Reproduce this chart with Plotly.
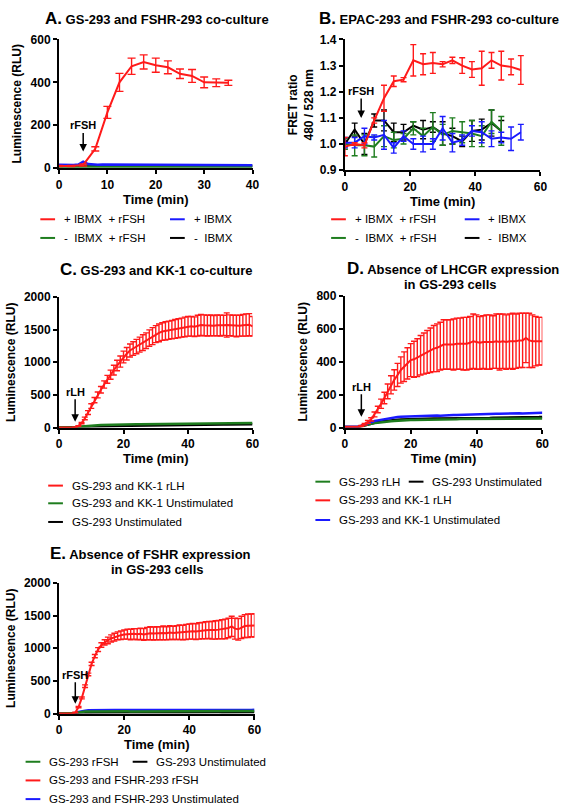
import plotly.graph_objects as go

W, H = 569, 812
FONT = "Liberation Sans, Arial, sans-serif"

RED = "#ff1a1a"
BLUE = "#1a1aff"
GREEN = "#1e7d1e"
BLACK = "#000000"

# ---------- A. GS-293 and FSHR-293 co-culture ----------
a_red_t = [0, 2.5, 5, 7.5, 10, 12.5, 15, 17.5, 20, 22.5, 25, 27.5, 30, 32.5, 35]
a_red = [10, 10, 15, 90, 260, 400, 475, 495, 480, 470, 440, 430, 400, 398, 398]
a_red_err = [3, 3, 5, 10, 28, 42, 38, 33, 33, 30, 22, 30, 25, 18, 12]

a_base_t = list(range(41))
a_blue = [16, 15, 16, 15, 17, 30, 19, 17, 16, 17,
          17, 16, 15, 16, 15, 16, 17, 16, 15, 16,
          17, 16, 16, 15, 16, 15, 16, 17, 16, 15,
          15, 16, 15, 16, 15, 15, 14, 15, 15, 14,
          14]
a_green = [8, 8, 7, 8, 8, 10, 9, 8, 8, 8,
           8, 8, 7, 8, 8, 7, 8, 8, 7, 8,
           8, 7, 8, 8, 7, 8, 8, 7, 8, 8,
           7, 8, 8, 7, 8, 7, 8, 8, 7, 8,
           8]
a_black = [11, 11, 10, 11, 11, 13, 11, 11, 10, 11,
           11, 11, 10, 11, 11, 10, 11, 11, 10, 11,
           11, 10, 11, 11, 10, 11, 11, 10, 11, 11,
           10, 11, 11, 10, 11, 10, 11, 11, 10, 11,
           11]

# ---------- B. EPAC-293 and FSHR-293 co-culture ----------
b_t = [0, 3, 6, 9, 12, 15, 18, 21, 24, 27, 30, 33, 36, 39, 42, 45, 48, 51, 54]
b_red = [0.99, 1.0, 0.995, 1.09, 1.175, 1.24, 1.246, 1.32, 1.305, 1.31,
         1.305, 1.32, 1.30, 1.285, 1.29, 1.32, 1.30, 1.295, 1.283]
b_red_err = [0.035, 0.005, 0.01, 0.01, 0.05, 0.02, 0.008, 0.06, 0.04, 0.04,
             0.01, 0.012, 0.03, 0.03, 0.065, 0.03, 0.055, 0.03, 0.055]
b_blue = [1.005, 1.005, 1.03, 1.025, 1.035, 0.985, 1.03, 1.0, 1.0, 1.0,
          1.06, 1.005, 1.015, 1.05, 1.045, 1.02, 1.025, 1.02, 1.045]
b_blue_err = [0.02, 0.02, 0.03, 0.01, 0.055, 0.02, 0.02, 0.02, 0.03, 0.02,
              0.045, 0.035, 0.02, 0.02, 0.04, 0.03, 0.02, 0.045, 0.03]
b_short_t = b_t[:17]
b_green = [1.0, 0.995, 0.995, 0.99, 1.03, 1.015, 1.02, 1.06, 1.03, 1.065,
           1.035, 1.05, 1.045, 1.04, 1.03, 1.085, 1.05]
b_green_err = [0.02, 0.04, 0.04, 0.04, 0.04, 0.03, 0.02, 0.025, 0.03, 0.055,
               0.04, 0.05, 0.04, 0.05, 0.04, 0.045, 0.055]
b_black = [1.0, 1.055, 1.0, 1.09, 1.09, 1.045, 1.045, 1.07, 1.055, 1.065,
           1.04, 1.03, 1.01, 1.05, 1.055, 1.08, 1.05]
b_black_err = [0.01, 0.025, 0.04, 0.025, 0.04, 0.035, 0.03, 0.015, 0.035, 0.02,
               0.045, 0.03, 0.02, 0.04, 0.04, 0.05, 0.04]

# ---------- C. GS-293 and KK-1 co-culture ----------
t60 = list(range(61))
c_red = [0, 0, 0, 0, 0, 5, 25, 70, 140, 230,
         330, 420, 500, 580, 660, 740, 810, 880, 950, 1010,
         1080, 1130, 1180, 1210, 1240, 1270, 1300, 1330, 1370, 1400,
         1430, 1450, 1470, 1480, 1490, 1500, 1510, 1520, 1530, 1540,
         1550, 1550, 1545, 1560, 1570, 1565, 1560, 1565, 1560, 1565,
         1560, 1565, 1570, 1565, 1560, 1555, 1560, 1565, 1570, 1575,
         1550]
c_red_err = [0, 0, 0, 0, 0, 2, 5, 10, 20, 30,
             35, 40, 45, 50, 55, 60, 70, 75, 80, 85,
             90, 95, 100, 105, 110, 115, 120, 120, 125, 130,
             130, 135, 135, 140, 140, 140, 145, 145, 145, 150,
             150, 150, 150, 160, 160, 160, 160, 160, 155, 160,
             160, 155, 185, 160, 160, 165, 160, 165, 170, 170,
             150]
c_green = [0, 0, 0, 0, 2, 5, 12, 18, 24, 28,
           32, 35, 37, 39, 41, 42, 43, 44, 45, 46,
           47, 48, 49, 50, 50, 51, 52, 52, 53, 54,
           55, 55, 56, 57, 57, 58, 59, 59, 60, 61,
           61, 62, 62, 63, 64, 64, 65, 65, 66, 67,
           67, 68, 68, 69, 69, 70, 70, 71, 71, 72,
           72]
c_black = [0, 0, 0, 0, 1, 3, 6, 9, 12, 14,
           16, 18, 19, 20, 21, 22, 23, 24, 25, 26,
           27, 28, 28, 29, 30, 31, 32, 32, 33, 34,
           35, 35, 36, 37, 37, 38, 39, 39, 40, 41,
           41, 42, 42, 43, 44, 44, 45, 45, 46, 47,
           47, 48, 48, 49, 49, 50, 50, 51, 51, 52,
           52]

# ---------- D. Absence of LHCGR expression ----------
d_red = [5, 5, 5, 5, 5, 10, 20, 35, 50, 80,
         110, 145, 180, 220, 260, 290, 320, 350, 370, 390,
         410, 415, 425, 440, 450, 460, 470, 480, 485, 495,
         505, 505, 505, 505, 510, 510, 510, 510, 515, 525,
         520, 515, 520, 520, 520, 520, 525, 520, 525, 520,
         525, 525, 525, 530, 530, 545, 530, 525, 525, 525,
         525]
d_red_err = [0, 0, 0, 0, 0, 3, 5, 8, 10, 15,
             20, 28, 35, 45, 55, 62, 70, 80, 90, 95,
             100, 110, 115, 120, 125, 130, 135, 140, 145, 145,
             150, 150, 150, 155, 155, 155, 160, 160, 160, 165,
             165, 160, 160, 165, 165, 160, 165, 170, 165, 165,
             165, 170, 165, 165, 165, 150, 165, 160, 150, 145,
             145]
d_blue = [5, 5, 5, 5, 6, 12, 20, 28, 35, 40,
          44, 48, 52, 56, 60, 63, 65, 66, 67, 68,
          68, 69, 70, 70, 71, 70, 72, 72, 73, 72,
          74, 75, 75, 76, 77, 78, 78, 79, 80, 80,
          81, 81, 82, 83, 84, 84, 85, 85, 86, 86,
          86, 86, 87, 87, 86, 86, 87, 88, 88, 89,
          90]
d_green = [4, 4, 4, 4, 5, 10, 15, 20, 25, 28,
           30, 33, 35, 37, 39, 40, 42, 44, 45, 46,
           46, 47, 47, 48, 48, 49, 49, 50, 50, 50,
           50, 51, 51, 51, 51, 52, 52, 52, 52, 52,
           52, 52, 53, 53, 53, 53, 54, 54, 54, 54,
           54, 55, 55, 55, 55, 55, 56, 56, 56, 56,
           56]
d_black = [3, 3, 3, 3, 4, 8, 14, 20, 26, 30,
           34, 37, 40, 42, 44, 46, 48, 49, 50, 51,
           52, 52, 53, 53, 54, 54, 54, 55, 55, 55,
           55, 56, 56, 56, 57, 57, 57, 57, 58, 58,
           58, 58, 59, 59, 59, 60, 60, 60, 61, 61,
           61, 62, 62, 62, 63, 63, 63, 64, 64, 64,
           65]

# ---------- E. Absence of FSHR expression ----------
e_red = [0, 0, 0, 0, 0, 15, 100, 240, 420, 600,
         760, 880, 980, 1050, 1090, 1120, 1150, 1170, 1190, 1200,
         1210, 1215, 1210, 1220, 1215, 1220, 1210, 1225, 1230, 1225,
         1230, 1230, 1235, 1230, 1240, 1235, 1240, 1245, 1240, 1250,
         1255, 1260, 1255, 1265, 1270, 1275, 1280, 1275, 1280, 1285,
         1290, 1295, 1310, 1335, 1300, 1290, 1320, 1340, 1345, 1350,
         1350]
e_red_err = [0, 0, 0, 0, 0, 5, 10, 15, 20, 20,
             25, 25, 30, 35, 40, 50, 55, 60, 60, 65,
             70, 75, 80, 80, 85, 85, 90, 95, 100, 100,
             100, 100, 105, 100, 105, 100, 105, 110, 110, 115,
             115, 120, 120, 125, 125, 130, 130, 135, 140, 140,
             145, 150, 150, 155, 160, 165, 170, 175, 180, 175,
             180]
e_green = [2, 2, 2, 2, 3, 8, 18, 28, 32, 34,
           35, 36, 36, 35, 36, 37, 36, 35, 36, 35,
           34, 35, 34, 35, 36, 35, 34, 35, 36, 35,
           36, 35, 36, 37, 36, 35, 36, 37, 36, 37,
           36, 37, 38, 37, 36, 37, 38, 37, 38, 39,
           38, 39, 38, 39, 40, 39, 38, 39, 40, 39,
           40]
e_blue = [3, 3, 3, 3, 4, 10, 25, 38, 45, 50,
          52, 54, 55, 56, 56, 57, 56, 55, 56, 55,
          54, 55, 54, 53, 54, 55, 54, 53, 54, 55,
          54, 53, 54, 55, 56, 55, 54, 55, 56, 55,
          54, 55, 56, 55, 54, 55, 56, 57, 56, 55,
          56, 57, 56, 55, 56, 57, 58, 57, 56, 57,
          58]
e_black = [1, 1, 1, 1, 2, 4, 8, 11, 13, 14,
           15, 15, 16, 16, 15, 16, 16, 15, 16, 16,
           15, 16, 16, 17, 16, 16, 17, 16, 17, 17,
           16, 17, 17, 18, 17, 17, 18, 17, 18, 18,
           17, 18, 18, 19, 18, 18, 19, 18, 19, 19,
           18, 19, 19, 20, 19, 19, 20, 19, 20, 20,
           20]

# legend labels
ibmx_rfsh_p = "+ IBMX\u00a0\u00a0+ rFSH"
ibmx_rfsh_m = "-\u00a0\u00a0IBMX\u00a0\u00a0+ rFSH"
ibmx_p = "+ IBMX"
ibmx_m = "-\u00a0\u00a0IBMX"


def px(x):
    return x / W


def py(y):
    return 1 - y / H


fig = go.Figure()


def add_line(x, y, color, n, err=None, width=2.0, cap=4):
    tr = go.Scatter(
        x=x, y=y, mode="lines", line=dict(color=color, width=width),
        xaxis="x" if n == 1 else f"x{n}", yaxis="y" if n == 1 else f"y{n}",
        showlegend=False, hoverinfo="skip",
    )
    if err is not None:
        tr.error_y = dict(type="data", array=err, color=color, thickness=1.4, width=cap)
    fig.add_trace(tr)


# A
add_line(a_base_t, a_black, BLACK, 1, width=2.5)
add_line(a_base_t, a_green, GREEN, 1, width=2.5)
add_line(a_base_t, a_blue, BLUE, 1, width=2.5)
add_line(a_red_t, a_red, RED, 1, err=a_red_err)
# B
add_line(b_short_t, b_black, BLACK, 2, err=b_black_err, cap=3)
add_line(b_short_t, b_green, GREEN, 2, err=b_green_err, cap=3)
add_line(b_t, b_blue, BLUE, 2, err=b_blue_err, cap=3)
add_line(b_t, b_red, RED, 2, err=b_red_err, cap=3)
# C
add_line(t60, c_black, BLACK, 3, width=2.5)
add_line(t60, c_green, GREEN, 3, width=2.5)
add_line(t60, c_red, RED, 3, err=c_red_err, cap=3)
# D
add_line(t60, d_black, BLACK, 4, width=2.5)
add_line(t60, d_green, GREEN, 4, width=2.5)
add_line(t60, d_blue, BLUE, 4, width=2.5)
add_line(t60, d_red, RED, 4, err=d_red_err, cap=3)
# E
add_line(t60, e_black, BLACK, 5, width=2.5)
add_line(t60, e_blue, BLUE, 5, width=2.5)
add_line(t60, e_green, GREEN, 5, width=2.5)
add_line(t60, e_red, RED, 5, err=e_red_err, cap=3)

tick_font = dict(family=FONT, size=12, color="black", weight="bold")
xtitle_font = dict(family=FONT, size=13, color="black", weight="bold")
ytitle_font = dict(family=FONT, size=12, color="black", weight="bold")


def xax(left, right, rng, dtick, anchor):
    return dict(
        domain=[px(left), px(right)], range=rng, dtick=dtick, anchor=anchor,
        showline=True, linecolor="black", linewidth=2, ticks="outside",
        ticklen=4, tickwidth=1.5, tickcolor="black", showgrid=False,
        zeroline=False, tickfont=tick_font,
        title=dict(text="Time (min)", font=xtitle_font, standoff=2),
    )


def yax(top_px, bottom_px, rng, dtick, anchor, title, standoff=6, fmt=None):
    d = dict(
        domain=[py(bottom_px), py(top_px)], range=rng, dtick=dtick, anchor=anchor,
        showline=True, linecolor="black", linewidth=2, ticks="outside",
        ticklen=4, tickwidth=1.5, tickcolor="black", showgrid=False,
        zeroline=False, tickfont=tick_font,
        title=dict(text=title, font=ytitle_font, standoff=standoff),
    )
    if fmt:
        d["tickformat"] = fmt
    return d


lum = "Luminescence (RLU)"
fig.update_layout(
    xaxis=xax(57, 254, [0, 40], 10, "y"),
    yaxis=yax(33, 164, [0, 600], 200, "x", lum),
    xaxis2=xax(348, 547, [0, 60], 20, "y2"),
    yaxis2=yax(33, 166, [0.9, 1.4], 0.1, "x2", "FRET ratio<br>480 / 528 nm", 4, ".1f"),
    xaxis3=xax(57, 254, [0, 60], 20, "y3"),
    yaxis3=yax(295, 428, [0, 2000], 500, "x3", lum),
    xaxis4=xax(348, 549, [0, 60], 20, "y4"),
    yaxis4=yax(294, 428, [0, 800], 200, "x4", lum),
    xaxis5=xax(57, 256, [0, 60], 20, "y5"),
    yaxis5=yax(586, 719, [0, 2000], 500, "x5", lum),
)

annotations = []
shapes = []

# panel titles
titles = [
    ("A.", "GS-293 and FSHR-293 co-culture", 157, 12),
    ("B.", "EPAC-293 and FSHR-293 co-culture", 444, 12),
    ("C.", "GS-293 and KK-1 co-culture", 156, 267),
    ("D.", "Absence of LHCGR expression", 458, 266),
    ("E.", "Absence of FSHR expression", 150, 556),
]
for letter, text, cx, cy in titles:
    annotations.append(dict(
        text=f"<b><span style='font-size:17px'>{letter}</span> {text}</b>",
        x=px(cx), y=py(cy), xref="paper", yref="paper", showarrow=False,
        xanchor="center", yanchor="middle", font=dict(family=FONT, size=13, color="black"),
    ))
for cx, cy in [(455, 282), (157, 572)]:
    annotations.append(dict(
        text="<b>in GS-293 cells</b>", x=px(cx), y=py(cy), xref="paper", yref="paper",
        showarrow=False, xanchor="center", yanchor="middle",
        font=dict(family=FONT, size=13, color="black"),
    ))

# stimulus arrows
arrows = [("rFSH", "x", "y", 78, -26), ("rFSH", "x2", "y2", 1.099, -27),
          ("rLH", "x3", "y3", 90, -30), ("rLH", "x4", "y4", 66, -30),
          ("rFSH", "x5", "y5", 150, -29)]
for label, xr, yr, tip, ay in arrows:
    annotations.append(dict(
        text=f"<b>{label}</b>", x=5, y=tip, xref=xr, yref=yr, showarrow=True,
        ax=0, ay=ay, arrowhead=2, arrowsize=1, arrowwidth=1.5, arrowcolor="black",
        font=dict(family=FONT, size=11, color="black"), standoff=0,
    ))

# legends (line sample + label)
legends = [
    (38, 216, RED, ibmx_rfsh_p), (170, 216, BLUE, ibmx_p),
    (38, 235, GREEN, ibmx_rfsh_m), (170, 235, BLACK, ibmx_m),
    (334, 216, RED, ibmx_rfsh_p), (470, 216, BLUE, ibmx_p),
    (334, 235, GREEN, ibmx_rfsh_m), (470, 235, BLACK, ibmx_m),
    (46, 487, RED, "GS-293 and KK-1 rLH"),
    (46, 505, GREEN, "GS-293 and KK-1 Unstimulated"),
    (46, 524, BLACK, "GS-293 Unstimulated"),
    (318, 483, GREEN, "GS-293 rLH"), (413, 483, BLACK, "GS-293 Unstimulated"),
    (318, 502, RED, "GS-293 and KK-1 rLH"),
    (318, 522, BLUE, "GS-293 and KK-1 Unstimulated"),
    (23, 768, GREEN, "GS-293 rFSH"), (132, 768, BLACK, "GS-293 Unstimulated"),
    (23, 787, RED, "GS-293 and FSHR-293 rFSH"),
    (23, 806, BLUE, "GS-293 and FSHR-293 Unstimulated"),
]
for x0, y0, color, label in legends:
    shapes.append(dict(type="line", xref="paper", yref="paper",
                       x0=px(x0), x1=px(x0 + 15), y0=py(y0), y1=py(y0),
                       line=dict(color=color, width=2)))
    annotations.append(dict(
        text=label, x=px(x0 + 22), y=py(y0), xref="paper", yref="paper",
        showarrow=False, xanchor="left", yanchor="middle",
        font=dict(family=FONT, size=11.5, color="black"),
    ))

fig.update_layout(
    width=W, height=H, margin=dict(l=0, r=0, t=0, b=0),
    paper_bgcolor="white", plot_bgcolor="white",
    annotations=annotations, shapes=shapes, showlegend=False,
)

# drop the default body margin so the figure fills the window exactly
fig.write_html(
    "out.html",
    config={"displayModeBar": False},
    post_script="document.body.style.margin='0';document.body.style.overflow='hidden';",
)
